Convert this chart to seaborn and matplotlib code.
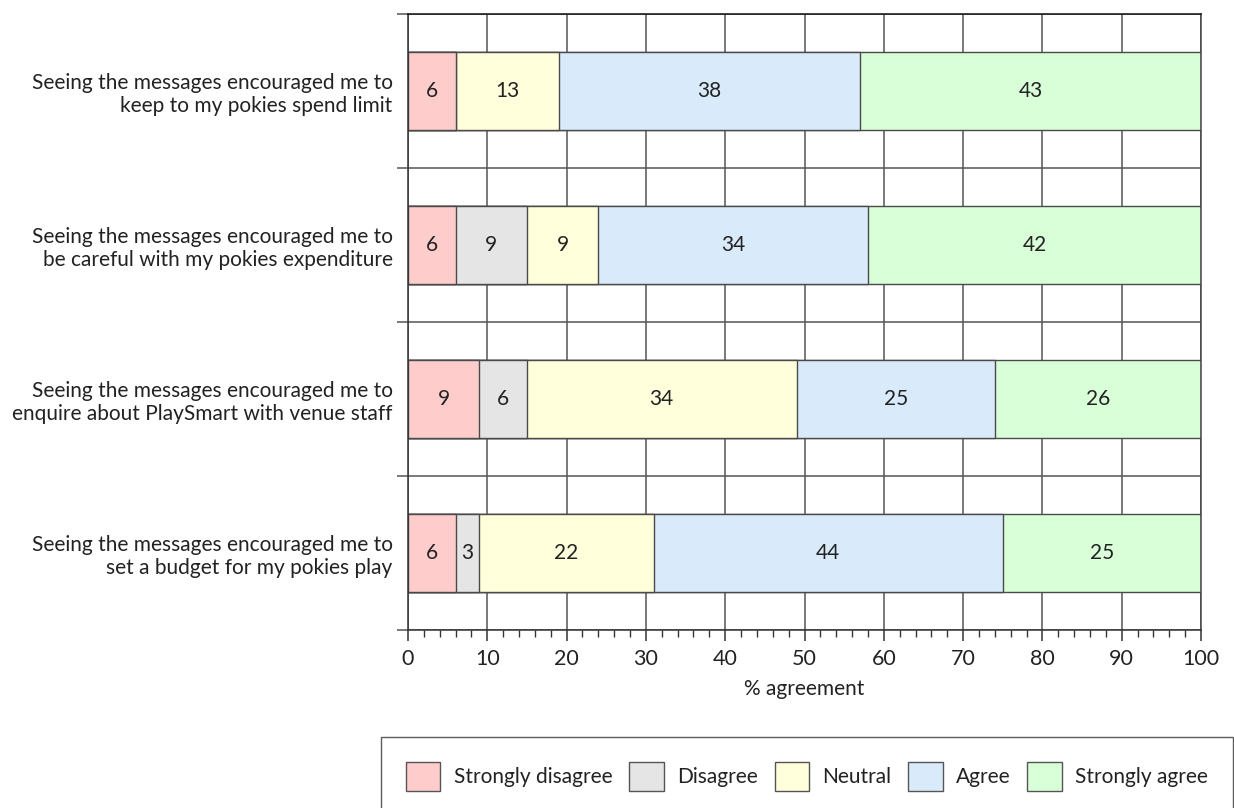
import matplotlib
matplotlib.use("Agg")
import matplotlib.pyplot as plt
from matplotlib.patches import Patch
from matplotlib.ticker import MultipleLocator, FixedLocator
import seaborn as sns
import pandas as pd
import numpy as np

statements = [
    "Seeing the messages encouraged me to\nkeep to my pokies spend limit",
    "Seeing the messages encouraged me to\nbe careful with my pokies expenditure",
    "Seeing the messages encouraged me to\nenquire about PlaySmart with venue staff",
    "Seeing the messages encouraged me to\nset a budget for my pokies play",
]
responses = ["Strongly disagree", "Disagree", "Neutral", "Agree", "Strongly agree"]
strongly_disagree = [6, 6, 9, 6]
disagree = [0, 9, 6, 3]
neutral = [13, 9, 34, 22]
agree = [38, 34, 25, 44]
strongly_agree = [43, 42, 26, 25]
colors = ["#ffcccc", "#e5e5e5", "#ffffdb", "#d9eafb", "#d9ffd9"]

series = [strongly_disagree, disagree, neutral, agree, strongly_agree]

sns.set_theme(style="white")
plt.rcParams["font.family"] = ["Lato", "DejaVu Sans"]

TXT = "#222222"
FS = 15

fig = plt.figure(figsize=(12.34, 8.08), dpi=100)
ax = fig.add_axes([408 / 1234, 1 - 630 / 808, (1201 - 408) / 1234, (630 - 14) / 808])

# cumulative ends of each segment; draw the longest first so shorter ones sit on top
cum = np.cumsum(np.array(series, dtype=float), axis=0)
df = pd.DataFrame({"statement": statements})
for i in range(len(responses) - 1, -1, -1):
    df["end"] = cum[i]
    sns.barplot(data=df, y="statement", x="end", orient="h", order=statements,
                color=colors[i], saturation=1, width=0.506,
                edgecolor="#4a4a4a", linewidth=1.0, ax=ax, zorder=2)

# segment value labels
for i, vals in enumerate(series):
    for j, v in enumerate(vals):
        if v > 0:
            ax.text(cum[i][j] - v / 2, j, f"{v}", ha="center", va="center",
                    fontsize=FS, color=TXT, zorder=4)

ax.set_xlim(0, 100)
ax.set_ylim(3.5, -0.5)
ax.xaxis.set_major_locator(MultipleLocator(10))
ax.xaxis.set_minor_locator(MultipleLocator(2))
ax.yaxis.set_minor_locator(FixedLocator(np.arange(-0.5, 4.0, 1.0)))
ax.grid(False)
ax.grid(True, axis="x", which="major", color="#555555", linewidth=1.1, zorder=0)
ax.grid(True, axis="y", which="minor", color="#555555", linewidth=1.1, zorder=0)
ax.set_axisbelow(True)

ax.tick_params(axis="x", which="major", direction="out", length=8, width=1.1,
               color="#333333", labelsize=FS + 0.5, labelcolor=TXT, pad=6, bottom=True)
ax.tick_params(axis="x", which="minor", direction="out", length=5, width=1.0,
               color="#333333", bottom=True)
ax.tick_params(axis="y", which="major", length=0, labelsize=FS,
               labelcolor=TXT, pad=11)
ax.tick_params(axis="y", which="minor", direction="out", length=8, width=1.1,
               color="#555555", left=True)
for lbl in ax.get_yticklabels():
    lbl.set_horizontalalignment("right")
    lbl.set_multialignment("right")

ax.set_ylabel("")
ax.set_xlabel("% agreement", fontsize=FS, color=TXT, labelpad=7)

for side in ["top", "right", "left", "bottom"]:
    ax.spines[side].set_visible(True)
    ax.spines[side].set_linewidth(1.1)
ax.spines["top"].set_color("#111111")
ax.spines["right"].set_color("#444444")
ax.spines["left"].set_color("#333333")
ax.spines["bottom"].set_color("#333333")

handles = [Patch(facecolor=c, edgecolor="#555555", linewidth=1.0) for c in colors]
leg = fig.legend(handles, responses, loc="upper left",
                 bbox_to_anchor=(381 / 1234, 1 - 737 / 808), ncol=5,
                 fontsize=FS, frameon=True, fancybox=False,
                 handlelength=1.65, handleheight=1.8, handletextpad=0.65,
                 columnspacing=0.8, borderpad=1.2, borderaxespad=0)
leg.get_frame().set_edgecolor("#333333")
leg.get_frame().set_linewidth(1.0)
for t in leg.get_texts():
    t.set_color(TXT)

fig.savefig("out.png", dpi=100)
